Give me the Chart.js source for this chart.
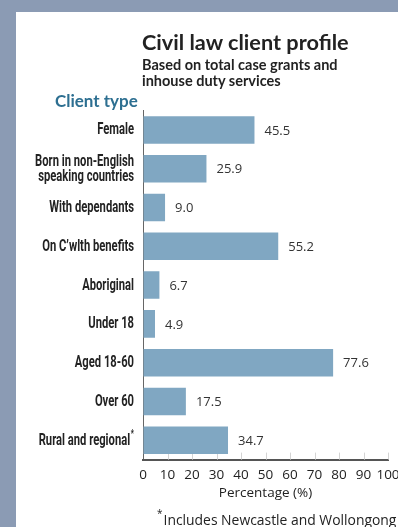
<!DOCTYPE html>
<html>
<head>
<meta charset="utf-8">
<script src="https://cdn.jsdelivr.net/npm/chart.js@4"></script>
<style>
  html, body { margin: 0; padding: 0; }
  body { width: 398px; height: 527px; background: #8b9bb4; position: relative; overflow: hidden; }
  #panel { position: absolute; left: 16px; top: 12px; width: 382px; height: 515px; background: #fff; }
  #wrap { position: absolute; left: 0; top: 0; width: 398px; height: 527px; }
  .txt { position: absolute; white-space: nowrap; }
  #title { left: 142px; top: 29px; font: bold 21.7px Lato, "Open Sans", sans-serif; color: #222; line-height: 26px; }
  #subtitle { left: 142px; top: 57px; font: bold 14.5px Lato, "Open Sans", sans-serif; color: #222; line-height: 16px; }
  #ctype { left: 55px; top: 91px; font: bold 17px Lato, "Open Sans", sans-serif; color: #2d6f91; line-height: 20px; }
  #note { left: 157px; top: 506px; font: 13.9px "Open Sans", sans-serif; color: #222; line-height: 18px; }
  #note sup { font-size: 10px; position: relative; top: -2px; margin-right: 1px; }
</style>
</head>
<body>
<div id="panel"></div>
<div id="wrap"><canvas id="chart" width="398" height="527"></canvas></div>
<div class="txt" id="title">Civil law client profile</div>
<div class="txt" id="subtitle">Based on total case grants and<br>inhouse duty services</div>
<div class="txt" id="ctype">Client type</div>
<div class="txt" id="note"><sup>*</sup>Includes Newcastle and Wollongong</div>
<script>
// Client categories (multi-line labels as arrays)
const categories = [
  "Female",
  ["Born in non-English", "speaking countries"],
  "With dependants",
  "On C\u2019wlth benefits",
  "Aboriginal",
  "Under 18",
  "Aged 18-60",
  "Over 60",
  "Rural and regional*"
];
// Share of clients, per cent
const percentages = [45.5, 25.9, 9.0, 55.2, 6.7, 4.9, 77.6, 17.5, 34.7];
// Horizontal axis ticks
const xTicks = [0, 10, 20, 30, 40, 50, 60, 70, 80, 90, 100];
const xAxisTitle = "Percentage (%)";

const barColor = "#80a7c2";

// Category names in a condensed bold face, right-aligned against the axis
const categoryLabels = {
  id: "categoryLabels",
  afterDraw(chart) {
    const ctx = chart.ctx;
    const y = chart.scales.y;
    const right = chart.chartArea.left - 9;
    const squeeze = 0.70;
    const lineGap = 15.5;
    ctx.save();
    ctx.fillStyle = "#222";
    ctx.textBaseline = "middle";
    ctx.textAlign = "right";
    categories.forEach((label, i) => {
      const lines = Array.isArray(label) ? label : [label];
      const cy = y.getPixelForTick(i);
      lines.forEach((line, j) => {
        const ly = cy + (j - (lines.length - 1) / 2) * lineGap + 0.5;
        ctx.save();
        ctx.translate(right, ly);
        ctx.scale(squeeze, 1);
        let text = line;
        if (text.endsWith("*")) {
          text = text.slice(0, -1);
          ctx.font = "bold 10px Roboto, sans-serif";
          ctx.fillText("*", 0, -6);
          ctx.translate(-ctx.measureText("*").width - 1, 0);
        }
        ctx.font = "bold 16px Roboto, sans-serif";
        ctx.fillText(text, 0, 0);
        ctx.restore();
      });
    });
    ctx.restore();
  }
};

// Writes each bar's value just past its end
const valueLabels = {
  id: "valueLabels",
  afterDatasetsDraw(chart) {
    const ctx = chart.ctx;
    const meta = chart.getDatasetMeta(0);
    ctx.save();
    ctx.font = "13px 'Open Sans', sans-serif";
    ctx.fillStyle = "#333";
    ctx.textAlign = "left";
    ctx.textBaseline = "middle";
    meta.data.forEach((bar, i) => {
      ctx.fillText(percentages[i].toFixed(1), bar.x + 10, bar.y + 1);
    });
    ctx.restore();
  }
};

// Short light tick marks rising from the baseline
const innerTicks = {
  id: "innerTicks",
  beforeDatasetsDraw(chart) {
    const ctx = chart.ctx;
    const x = chart.scales.x;
    const bottom = chart.chartArea.bottom;
    ctx.save();
    ctx.strokeStyle = "#d4d4d4";
    ctx.lineWidth = 1;
    xTicks.forEach(v => {
      if (v === 0) return;
      const px = Math.round(x.getPixelForValue(v)) + 0.5;
      ctx.beginPath();
      ctx.moveTo(px, bottom - 7);
      ctx.lineTo(px, bottom);
      ctx.stroke();
    });
    ctx.restore();
  }
};

new Chart(document.getElementById("chart"), {
  type: "bar",
  data: {
    labels: categories,
    datasets: [{
      data: percentages,
      backgroundColor: barColor,
      borderWidth: 0,
      categoryPercentage: 1,
      barPercentage: 0.71
    }]
  },
  options: {
    indexAxis: "y",
    responsive: false,
    animation: false,
    layout: { padding: { top: 110.6, bottom: 22.4, left: 0, right: 10 } },
    plugins: {
      legend: { display: false },
      tooltip: { enabled: false }
    },
    scales: {
      y: {
        position: "left",
        afterFit: s => { s.width = 143; },
        grid: { display: false, drawTicks: false },
        border: { color: "#666", width: 1 },
        ticks: { display: false, autoSkip: false }
      },
      x: {
        min: 0,
        max: 100,
        afterBuildTicks: s => { s.ticks = xTicks.map(v => ({ value: v })); },
        afterFit: s => { s.height = 45; s.paddingLeft = 0; s.paddingRight = 0; },
        grid: { drawOnChartArea: false, drawTicks: false },
        border: { color: "#555", width: 2 },
        ticks: {
          autoSkip: false,
          padding: 7,
          color: "#222",
          maxRotation: 0,
          minRotation: 0,
          font: { family: "'Open Sans', sans-serif", size: 13.5 }
        },
        title: {
          display: true,
          text: xAxisTitle,
          color: "#222",
          font: { family: "'Open Sans', sans-serif", size: 13.5 },
          padding: { top: 0, bottom: 3 }
        }
      }
    }
  },
  plugins: [innerTicks, valueLabels, categoryLabels]
});
</script>
</body>
</html>
